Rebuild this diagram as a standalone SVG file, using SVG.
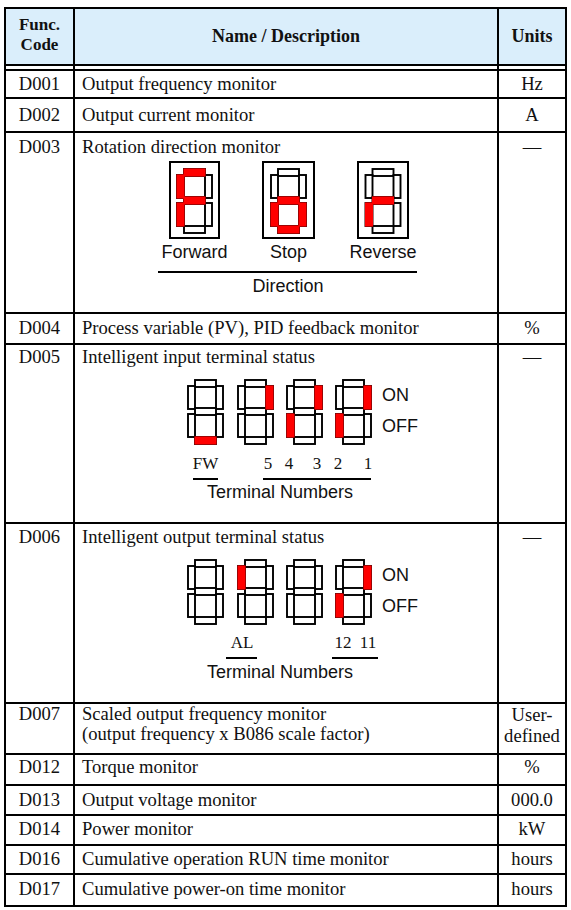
<svg xmlns="http://www.w3.org/2000/svg" xmlns:xlink="http://www.w3.org/1999/xlink" width="571" height="910" viewBox="0 0 571 910">
<style>
.ln{stroke:#000;stroke-width:2;fill:none}
.t{font-family:"Liberation Serif","Times New Roman",serif;font-size:18.6px;fill:#111}
.tb{font-family:"Liberation Serif","Times New Roman",serif;font-size:18px;font-weight:bold;fill:#111}
.th{font-family:"Liberation Serif","Times New Roman",serif;font-size:17px;font-weight:bold;fill:#111}
.c{text-anchor:middle}
.s{font-family:"Liberation Sans",Arial,sans-serif;font-size:18px;fill:#111}
.ts{font-family:"Liberation Serif","Times New Roman",serif;font-size:17px;fill:#111}
.seg{fill:#fff;stroke:#000;stroke-width:1.9}
.on{fill:#f00;stroke:#f00;stroke-width:1.2}
.box{fill:none;stroke:#000;stroke-width:2}
</style>
<defs>
<g id="digit">
<rect class="seg" x="7" y="0" width="21" height="7"/>
<rect class="seg" x="0" y="6" width="7" height="23"/>
<rect class="seg" x="28" y="6" width="7" height="23"/>
<rect class="seg" x="7" y="28" width="21" height="7"/>
<rect class="seg" x="0" y="34" width="7" height="23"/>
<rect class="seg" x="28" y="34" width="7" height="23"/>
<rect class="seg" x="7" y="57" width="21" height="7"/>
</g>
<rect id="sa" class="on" x="7" y="0" width="21" height="7"/>
<rect id="sf" class="on" x="0" y="6" width="7" height="23"/>
<rect id="sb" class="on" x="28" y="6" width="7" height="23"/>
<rect id="sg" class="on" x="7" y="28" width="21" height="7"/>
<rect id="se" class="on" x="0" y="34" width="7" height="23"/>
<rect id="sc" class="on" x="28" y="34" width="7" height="23"/>
<rect id="sd" class="on" x="7" y="57" width="21" height="7"/>
</defs>

<g id="header">
<rect x="5" y="8" width="561" height="57" fill="#daeefb"/>
<text class="th c" x="39.5" y="30">Func.</text>
<text class="th c" x="39.5" y="50">Code</text>
<text class="tb c" x="286" y="42">Name / Description</text>
<text class="tb c" x="532" y="42">Units</text>
</g>

<g id="grid">
<line class="ln" x1="4" y1="8" x2="567" y2="8"/>
<line class="ln" x1="4" y1="65" x2="567" y2="65"/>
<line class="ln" x1="4" y1="70" x2="567" y2="70"/>
<line class="ln" x1="4" y1="98" x2="567" y2="98"/>
<line class="ln" x1="4" y1="132" x2="567" y2="132"/>
<line class="ln" x1="4" y1="313" x2="567" y2="313"/>
<line class="ln" x1="4" y1="344" x2="567" y2="344"/>
<line class="ln" x1="4" y1="523" x2="567" y2="523"/>
<line class="ln" x1="4" y1="703" x2="567" y2="703"/>
<line class="ln" x1="4" y1="754" x2="567" y2="754"/>
<line class="ln" x1="4" y1="785" x2="567" y2="785"/>
<line class="ln" x1="4" y1="815" x2="567" y2="815"/>
<line class="ln" x1="4" y1="845" x2="567" y2="845"/>
<line class="ln" x1="4" y1="874" x2="567" y2="874"/>
<line class="ln" x1="4" y1="906" x2="567" y2="906"/>
<line class="ln" x1="5" y1="7" x2="5" y2="907"/>
<line class="ln" x1="74" y1="7" x2="74" y2="907"/>
<line class="ln" x1="498" y1="7" x2="498" y2="907"/>
<line class="ln" x1="566" y1="7" x2="566" y2="907"/>
</g>

<g id="D001">
<text class="t c" x="39.5" y="90">D001</text>
<text class="t" x="82" y="90">Output frequency monitor</text>
<text class="t c" x="532" y="90">Hz</text>
</g>

<g id="D002">
<text class="t c" x="39.5" y="121">D002</text>
<text class="t" x="82" y="121">Output current monitor</text>
<text class="t c" x="532" y="121">A</text>
</g>

<g id="D003">
<text class="t c" x="39.5" y="153">D003</text>
<text class="t" x="82" y="153">Rotation direction monitor</text>
<text class="t c" x="532" y="153">—</text>
<rect class="box" x="170" y="162" width="49" height="76"/>
<rect class="box" x="263" y="162" width="51" height="76"/>
<rect class="box" x="358" y="162" width="50" height="76"/>
<g transform="translate(177,169)"><use xlink:href="#digit"/><use xlink:href="#sa"/><use xlink:href="#sf"/><use xlink:href="#sg"/><use xlink:href="#se"/></g>
<g transform="translate(271,169)"><use xlink:href="#digit"/><use xlink:href="#sg"/><use xlink:href="#se"/><use xlink:href="#sc"/><use xlink:href="#sd"/></g>
<g transform="translate(365.5,169)"><use xlink:href="#digit"/><use xlink:href="#sg"/><use xlink:href="#se"/></g>
<text class="s c" x="194.5" y="258">Forward</text>
<text class="s c" x="288.5" y="258">Stop</text>
<text class="s c" x="383" y="258">Reverse</text>
<line class="ln" x1="158" y1="272" x2="417" y2="272"/>
<text class="s c" x="288" y="292">Direction</text>
</g>

<g id="D004">
<text class="t c" x="39.5" y="334">D004</text>
<text class="t" x="82" y="334">Process variable (PV), PID feedback monitor</text>
<text class="t c" x="532" y="334">%</text>
</g>

<g id="D005">
<text class="t c" x="39.5" y="363">D005</text>
<text class="t" x="82" y="363">Intelligent input terminal status</text>
<text class="t c" x="532" y="363">—</text>
<g transform="translate(188,380)"><use xlink:href="#digit"/><use xlink:href="#sd"/></g>
<g transform="translate(238,380)"><use xlink:href="#digit"/><use xlink:href="#sb"/></g>
<g transform="translate(287,380)"><use xlink:href="#digit"/><use xlink:href="#sb"/><use xlink:href="#se"/></g>
<g transform="translate(336,380)"><use xlink:href="#digit"/><use xlink:href="#sb"/><use xlink:href="#se"/></g>
<text class="s" x="382" y="401">ON</text>
<text class="s" x="382" y="432">OFF</text>
<text class="ts c" x="205.5" y="469">FW</text>
<text class="ts c" x="268" y="469">5</text>
<text class="ts c" x="289" y="469">4</text>
<text class="ts c" x="317" y="469">3</text>
<text class="ts c" x="338" y="469">2</text>
<text class="ts c" x="368" y="469">1</text>
<line class="ln" x1="193" y1="479" x2="218" y2="479"/>
<line class="ln" x1="263" y1="479" x2="371" y2="479"/>
<text class="s c" x="280" y="498">Terminal Numbers</text>
</g>

<g id="D006">
<text class="t c" x="39.5" y="543">D006</text>
<text class="t" x="82" y="543">Intelligent output terminal status</text>
<text class="t c" x="532" y="543">—</text>
<g transform="translate(188,560)"><use xlink:href="#digit"/></g>
<g transform="translate(238,560)"><use xlink:href="#digit"/><use xlink:href="#sf"/></g>
<g transform="translate(287,560)"><use xlink:href="#digit"/></g>
<g transform="translate(336,560)"><use xlink:href="#digit"/><use xlink:href="#sb"/><use xlink:href="#se"/></g>
<text class="s" x="382" y="581">ON</text>
<text class="s" x="382" y="612">OFF</text>
<text class="ts c" x="242" y="648">AL</text>
<text class="ts c" x="343" y="648">12</text>
<text class="ts c" x="368" y="648">11</text>
<line class="ln" x1="226" y1="658" x2="257" y2="658"/>
<line class="ln" x1="332" y1="658" x2="378" y2="658"/>
<text class="s c" x="280" y="678">Terminal Numbers</text>
</g>

<g id="D007">
<text class="t c" x="39.5" y="720">D007</text>
<text class="t" x="82" y="720">Scaled output frequency monitor</text>
<text class="t" x="82" y="740">(output frequency x B086 scale factor)</text>
<text class="t c" x="532" y="721">User-</text>
<text class="t c" x="532" y="742">defined</text>
</g>

<g id="D012">
<text class="t c" x="39.5" y="773">D012</text>
<text class="t" x="82" y="773">Torque monitor</text>
<text class="t c" x="532" y="773">%</text>
</g>

<g id="D013">
<text class="t c" x="39.5" y="806">D013</text>
<text class="t" x="82" y="806">Output voltage monitor</text>
<text class="t c" x="532" y="806">000.0</text>
</g>

<g id="D014">
<text class="t c" x="39.5" y="835">D014</text>
<text class="t" x="82" y="835">Power monitor</text>
<text class="t c" x="532" y="835">kW</text>
</g>

<g id="D016">
<text class="t c" x="39.5" y="865">D016</text>
<text class="t" x="82" y="865">Cumulative operation RUN time monitor</text>
<text class="t c" x="532" y="865">hours</text>
</g>

<g id="D017">
<text class="t c" x="39.5" y="895">D017</text>
<text class="t" x="82" y="895">Cumulative power-on time monitor</text>
<text class="t c" x="532" y="895">hours</text>
</g>
</svg>
